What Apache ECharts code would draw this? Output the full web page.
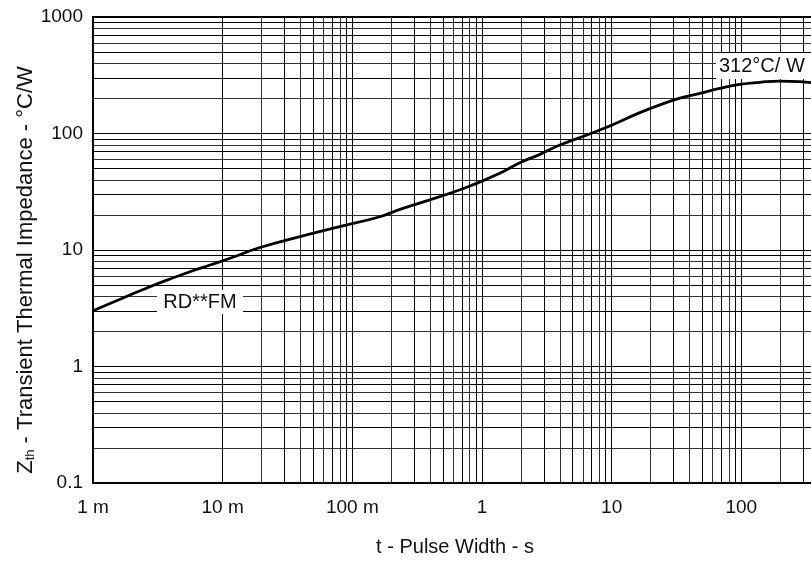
<!DOCTYPE html>
<html>
<head>
<meta charset="utf-8">
<script src="https://cdn.jsdelivr.net/npm/echarts@6/dist/echarts.min.js"></script>
<style>html,body{margin:0;padding:0;background:#fff}#c{width:811px;height:563px}</style>
</head>
<body>
<div id="c"></div>
<script>
// Pulse width t (s)
const tValues = [0.001, 0.00193, 0.00275, 0.00393, 0.0056, 0.008, 0.0114, 0.0194, 0.0394, 0.08, 0.163, 0.233, 0.396, 0.566, 0.807, 1.37, 1.96, 2.79, 3.99, 8.11, 16.5, 23.5, 33.6, 47.9, 68.3, 97.3, 139, 198, 282, 344];
// Transient thermal impedance Zth (°C/W)
const zValues = [3.01, 4.11, 4.84, 5.64, 6.51, 7.43, 8.49, 10.5, 13.0, 15.85, 19.3, 22.3, 26.9, 30.7, 35.4, 45.5, 56.1, 66.2, 79.6, 107, 151, 176, 201, 221, 244, 264, 275, 282, 279, 273];
const xTickLabels = ['1 m', '10 m', '100 m', '1', '10', '100', '1000'];
const yTickLabels = ['0.1', '1', '10', '100', '1000'];
const xDecades = [0.001, 0.01, 0.1, 1, 10, 100];
const yDecades = [0.1, 1, 10, 100];
const minorMultipliers = [2, 3, 4, 5, 6, 7, 8, 9];
const curveLabel = 'RD**FM';
const peakLabel = '312°C/ W';

const FONT = '"Liberation Sans", Arial, sans-serif';
const chart = echarts.init(document.getElementById('c'), null, {renderer: 'canvas'});

const minorLines = [];
xDecades.forEach(d => minorMultipliers.forEach((m, i) => {
  minorLines.push({xAxis: d * m, lineStyle: {color: i % 2 ? '#000' : '#333', width: 1, type: 'solid', opacity: 1}});
}));
yDecades.forEach(d => minorMultipliers.forEach((m, i) => {
  minorLines.push({yAxis: d * m, lineStyle: {color: i % 2 ? '#000' : '#333', width: 1, type: 'solid', opacity: 1}});
}));

chart.setOption({
  animation: false,
  backgroundColor: '#fff',
  grid: {left: 93, right: -60, top: 17, bottom: 80, outerBoundsMode: 'none', containLabel: false, show: true, borderColor: '#000', borderWidth: 2, backgroundColor: 'transparent'},
  xAxis: {
    type: 'log', logBase: 10, min: 0.001, max: 1000,
    axisLine: {show: true, lineStyle: {color: '#000', width: 2}},
    axisTick: {show: false},
    splitLine: {show: true, lineStyle: {color: '#000', width: 1}},
    axisLabel: {
      margin: 15, color: '#111', fontSize: 19, fontFamily: FONT,
      formatter: v => xTickLabels[Math.round(Math.log10(v)) + 3]
    }
  },
  yAxis: {
    type: 'log', logBase: 10, min: 0.1, max: 1000,
    axisLine: {show: true, lineStyle: {color: '#000', width: 2}},
    axisTick: {show: false},
    splitLine: {show: true, lineStyle: {color: '#000', width: 1}},
    axisLabel: {
      margin: 10, color: '#111', fontSize: 19, fontFamily: FONT,
      formatter: v => yTickLabels[Math.round(Math.log10(v)) + 1]
    }
  },
  series: [
    {
      type: 'line', data: [], silent: true, z: 1,
      markLine: {silent: true, symbol: ['none', 'none'], label: {show: false}, animation: false, emphasis: {disabled: true}, data: minorLines}
    },
    {
      type: 'line', z: 5,
      data: tValues.map((t, i) => [t, zValues[i]]),
      showSymbol: false, smooth: 0.5,
      lineStyle: {color: '#000', width: 2.8}
    }
  ],
  graphic: [
    {type: 'rect', z: 100, shape: {x: 157, y: 290, width: 86, height: 24}, style: {fill: '#fff'}},
    {type: 'text', z: 101, x: 200, y: 302, style: {text: curveLabel, fill: '#111', font: '20px ' + FONT, textAlign: 'center', textVerticalAlign: 'middle'}},
    {type: 'rect', z: 100, shape: {x: 716, y: 53, width: 100, height: 26}, style: {fill: '#fff'}},
    {type: 'text', z: 101, x: 719, y: 66, style: {text: peakLabel, fill: '#111', font: '20px ' + FONT, textAlign: 'left', textVerticalAlign: 'middle'}},
    {type: 'text', z: 101, x: 455, y: 547, style: {text: 't - Pulse Width - s', fill: '#111', font: '20px ' + FONT, textAlign: 'center', textVerticalAlign: 'middle'}},
    {type: 'text', z: 101, x: 24, y: 270, rotation: Math.PI / 2,
      style: {
        text: '{a|Z}{s|th}{a| - Transient Thermal Impedance - °C/W}',
        textAlign: 'center', textVerticalAlign: 'middle',
        rich: {
          a: {fontSize: 22, fontFamily: FONT, fill: '#111', lineHeight: 26, verticalAlign: 'bottom'},
          s: {fontSize: 13, fontFamily: FONT, fill: '#111', lineHeight: 24, verticalAlign: 'bottom'}
        }
      }
    }
  ]
});
</script>
</body>
</html>
